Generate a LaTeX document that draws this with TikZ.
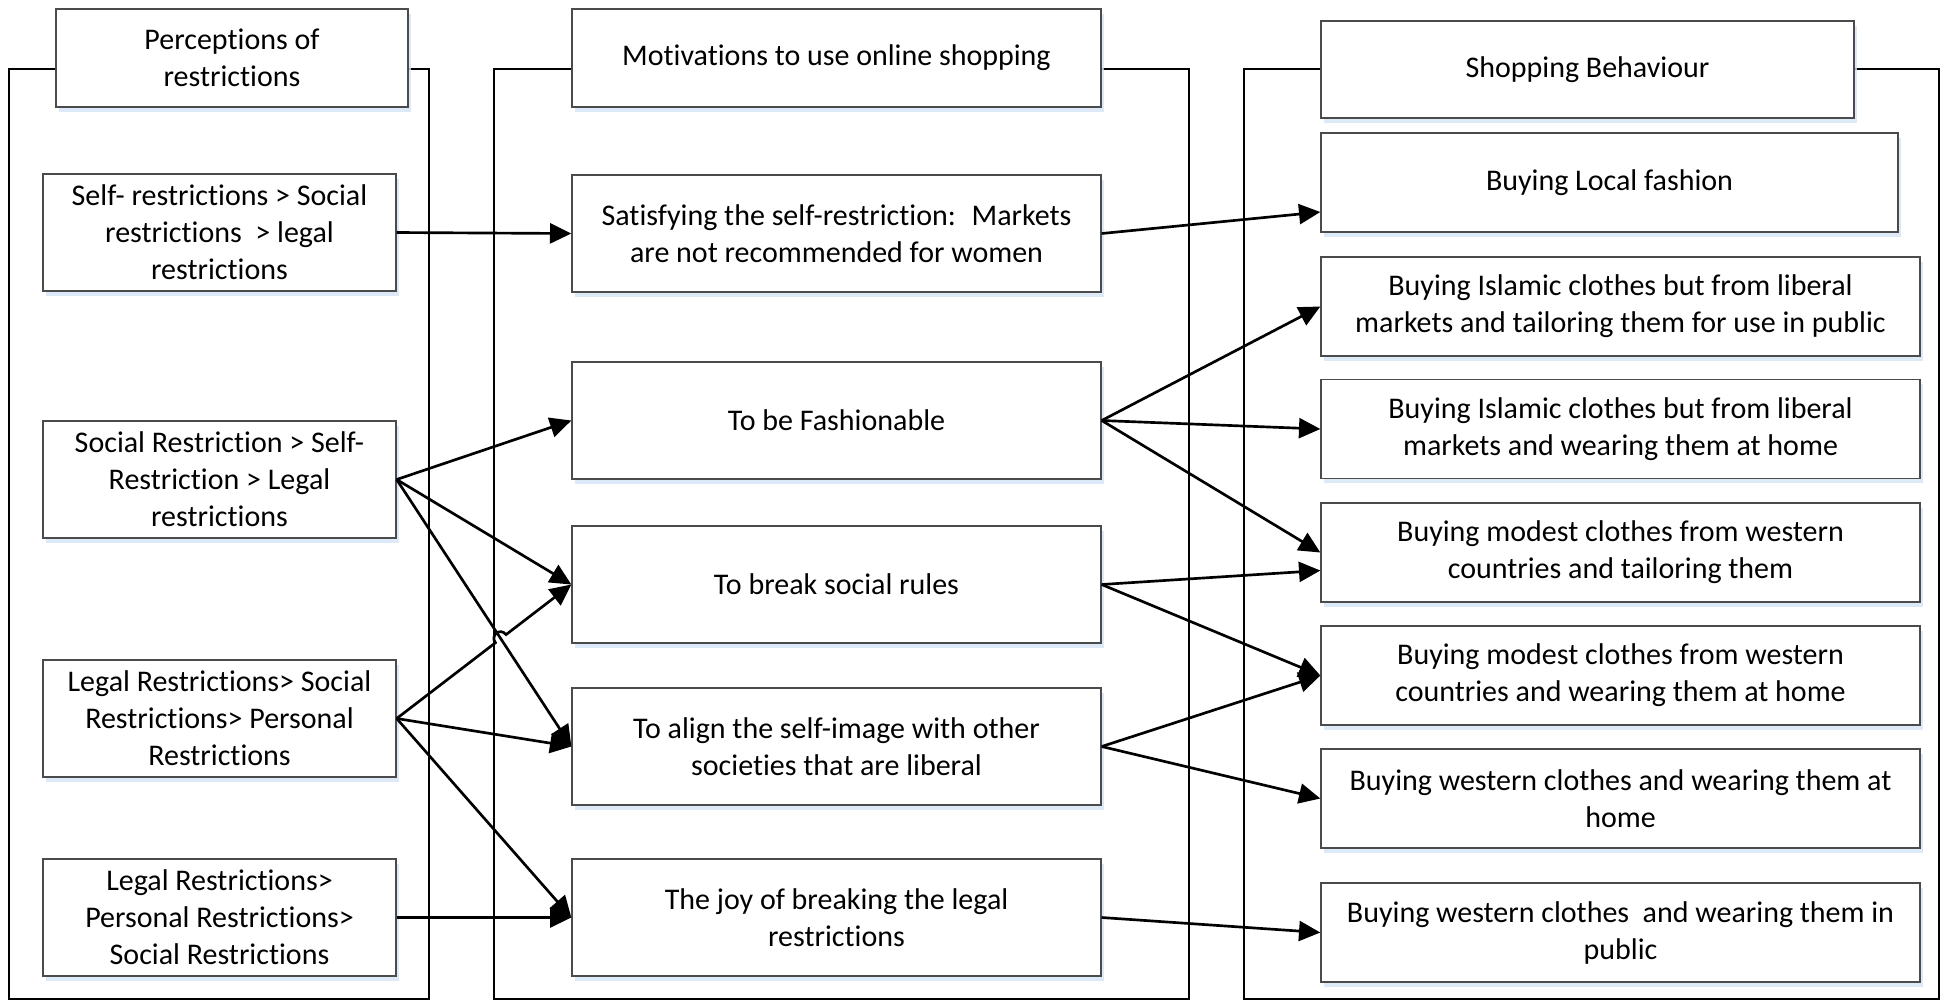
\documentclass[tikz,border=0pt]{standalone}
\usepackage{fontspec}
\setmainfont{Carlito}[Ligatures=NoCommon]
\usetikzlibrary{arrows.meta,shadows,calc,intersections}
\definecolor{shadowc}{RGB}{214,228,245}
\definecolor{boxline}{RGB}{75,75,75}
\tikzset{
  box/.style={draw=boxline, line width=1pt, fill=white, inner sep=0pt, align=center,
    font=\fontsize{22.5}{27.75}\selectfont,
    drop shadow={shadow xshift=2pt, shadow yshift=-3.5pt, fill=shadowc, opacity=0.8}},
  sz/.style 2 args={minimum width=#1*0.75pt, minimum height=#2*0.75pt},
  frame/.style={draw=black, line width=1.7pt},
  conn/.style={draw=black, line width=2pt, -{Triangle[length=16pt, width=15pt]}}
}
\begin{document}
\begin{tikzpicture}[x=0.75pt,y=-0.75pt]
\useasboundingbox (0,0) rectangle (1944,1001);
% containers
\draw[frame] (9,69) rectangle (429,999);
\draw[frame] (494,69) rectangle (1189,999);
\draw[frame] (1244,69) rectangle (1939,999);
% headers
\node[box, sz={352}{98}] (lh) at (232,58) {Perceptions of\\restrictions};
\node[box, sz={529}{98}] (mh) at (836.5,58) {Motivations to use online shopping};
\node[box, sz={533}{97}] (rh) at (1587.5,69.5) {Shopping Behaviour};
% left boxes
\node[box, sz={353}{117}] (s1) at (219.5,232.5) {Self- restrictions > Social\\restrictions \ > legal\\restrictions};
\node[box, sz={353}{117}] (s2) at (219.5,479.5) {Social Restriction > Self-\\Restriction > Legal\\restrictions};
\node[box, sz={353}{117}] (s3) at (219.5,718.5) {Legal Restrictions> Social\\Restrictions> Personal\\Restrictions};
\node[box, sz={353}{117}] (s4) at (219.5,917.5) {Legal Restrictions>\\Personal Restrictions>\\Social Restrictions};
% middle boxes
\node[box, sz={529}{117}] (m1) at (836.5,233.5) {Satisfying the self-restriction: \ Markets\\are not recommended for women};
\node[box, sz={529}{117}] (m2) at (836.5,420.5) {To be Fashionable};
\node[box, sz={529}{117}] (m3) at (836.5,584.5) {To break social rules};
\node[box, sz={529}{117}] (m4) at (836.5,746.5) {To align the self-image with other\\societies that are liberal};
\node[box, sz={529}{117}] (m5) at (836.5,917.5) {The joy of breaking the legal\\restrictions};
% right boxes
\node[box, sz={577}{99}] (r1) at (1609.5,182.5) {Buying Local fashion};
\node[box, sz={599}{99}] (r2) at (1620.5,306.5) {Buying Islamic clothes but from liberal\\markets and tailoring them for use in public};
\node[box, sz={599}{99}] (r3) at (1620.5,429) {Buying Islamic clothes but from liberal\\markets and wearing them at home};
\node[box, sz={599}{99}] (r4) at (1620.5,552.5) {Buying modest clothes from western\\countries and tailoring them};
\node[box, sz={599}{99}] (r5) at (1620.5,675.5) {Buying modest clothes from western\\countries and wearing them at home};
\node[box, sz={599}{99}] (r6) at (1620.5,798.5) {Buying western clothes and wearing them at\\home};
\node[box, sz={599}{99}] (r7) at (1620.5,932.5) {Buying western clothes \ and wearing them in\\public};
% connectors left -> middle
\draw[conn] (s1.east) -- (m1.west);
\draw[conn] (s2.east) -- (m2.west);
\draw[conn] (s2.east) -- (m3.west);
\draw[conn, name path=pA] (s2.east) -- (m4.west);
\path[name path=pB] (s3.east) -- (m3.west);
\path[name intersections={of=pA and pB, by=X}];
\coordinate (h1) at ($(X)!5pt!(s3.east)$);
\coordinate (h2) at ($(X)!5pt!(m3.west)$);
\coordinate (c1) at ($(h1)!7pt!90:(X)$);
\coordinate (c2) at ($(h2)!7pt!-90:(X)$);
\draw[conn] (s3.east) -- (h1) .. controls (c1) and (c2) .. (h2) -- (m3.west);
\draw[conn] (s3.east) -- (m4.west);
\draw[conn] (s3.east) -- (m5.west);
\draw[conn] (s4.east) -- (m5.west);
% connectors middle -> right
\draw[conn] (m1.east) -- ($(r1.west)+(0,29.5)$);
\draw[conn] (m2.east) -- (r2.west);
\draw[conn] (m2.east) -- (r3.west);
\draw[conn] (m2.east) -- (r4.west);
\draw[conn] (m3.east) -- ($(r4.west)+(0,18)$);
\draw[conn] (m3.east) -- (r5.west);
\draw[conn] (m4.east) -- (r5.west);
\draw[conn] (m4.east) -- (r6.west);
\draw[conn] (m5.east) -- (r7.west);
\end{tikzpicture}
\end{document}
